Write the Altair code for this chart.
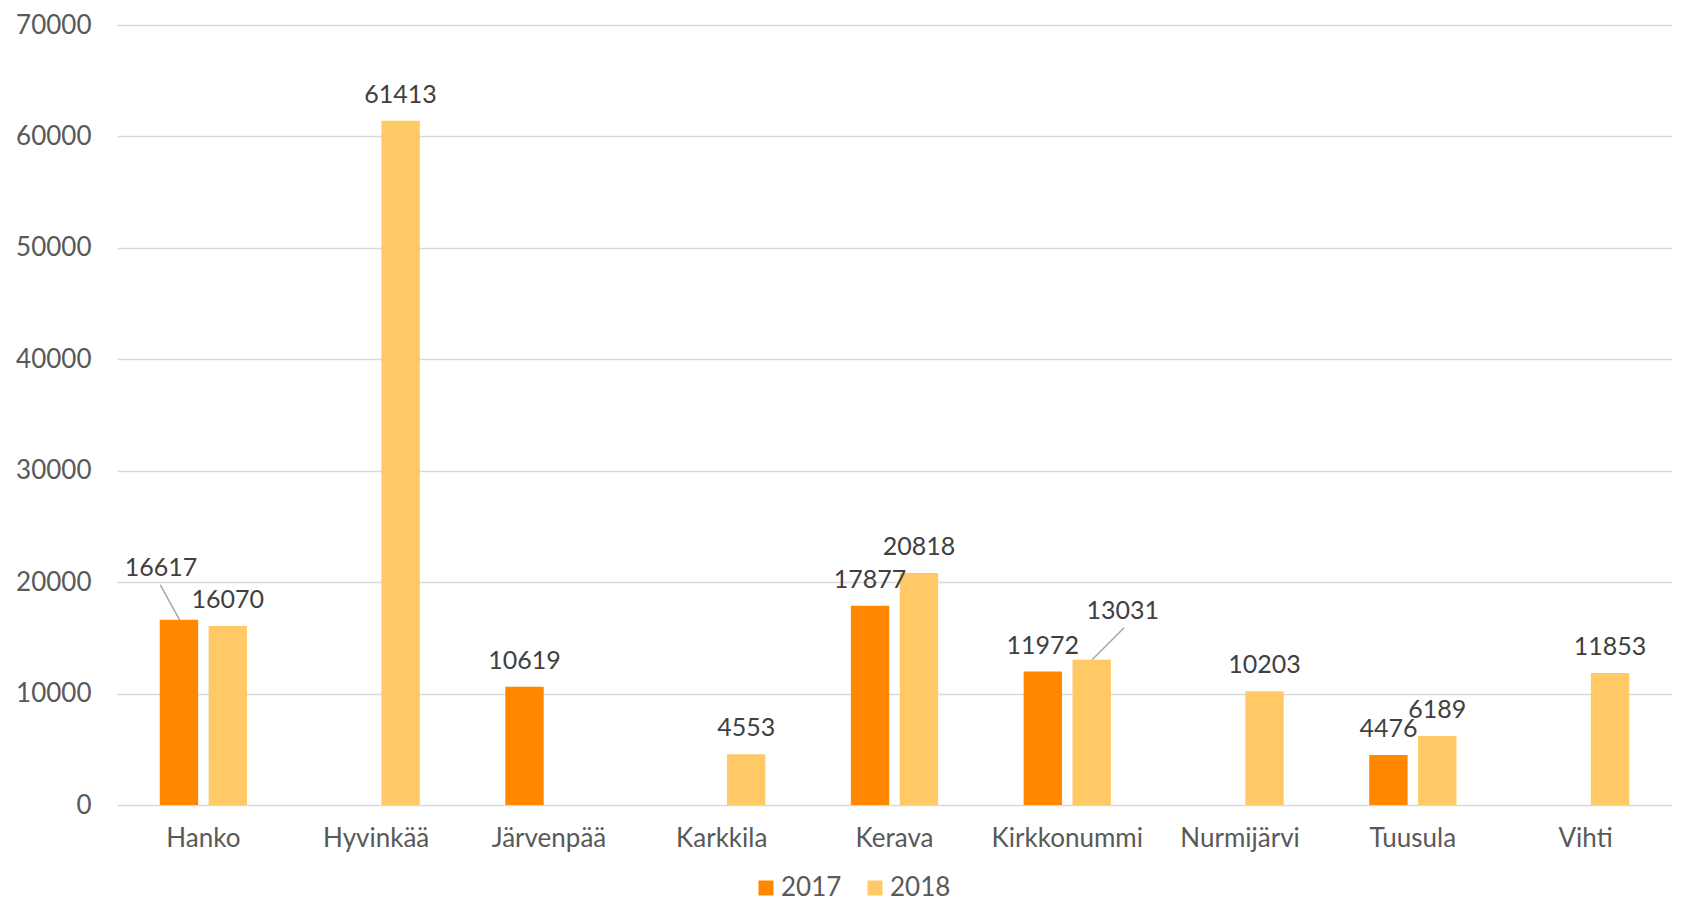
import altair as alt
import pandas as pd

cities = ["Hanko", "Hyvinkää", "Järvenpää", "Karkkila", "Kerava",
          "Kirkkonummi", "Nurmijärvi", "Tuusula", "Vihti"]
years = ["2017", "2018"]
v2017 = [16617, None, 10619, None, 17877, 11972, None, 4476, None]
v2018 = [16070, 61413, None, 4553, 20818, 13031, 10203, 6189, 11853]
y_ticks = [0, 10000, 20000, 30000, 40000, 50000, 60000, 70000]
colors = ["#FF8800", "#FFCA66"]

rows = []
for c, a, b in zip(cities, v2017, v2018):
    rows.append({"city": c, "year": "2017", "value": a})
    rows.append({"city": c, "year": "2018", "value": b})
df = pd.DataFrame(rows)

FONT = "Lato"
base = alt.Chart(df)

x = alt.X("city:N", sort=cities, title=None,
          scale=alt.Scale(paddingInner=0, paddingOuter=0),
          axis=alt.Axis(labelFontSize=26, labelColor="#595959", labelFont=FONT,
                        labelPadding=20, ticks=False, domain=False, labelAngle=0, grid=False))
xo = alt.XOffset("year:N", scale=alt.Scale(domain=years, paddingInner=0.214, paddingOuter=0.875))
y = alt.Y("value:Q", title=None,
          scale=alt.Scale(domain=[0, 70000], nice=False),
          axis=alt.Axis(values=y_ticks, format="d", labelFontSize=26, labelColor="#595959",
                        labelFont=FONT, labelPadding=26, ticks=False, domain=False,
                        gridColor="#D9D9D9", gridWidth=1.5))

bars = base.mark_bar().encode(
    x=x, xOffset=xo, y=y,
    color=alt.Color("year:N", scale=alt.Scale(domain=years, range=colors), title=None,
                    legend=alt.Legend(orient="none", legendX=636, legendY=850,
                                      direction="horizontal", symbolType="square",
                                      symbolSize=225, symbolStrokeWidth=0,
                                      labelFontSize=26, labelFont=FONT, labelColor="#595959",
                                      labelOffset=2, columnPadding=20, padding=0)),
)

special = "(datum.city == 'Hanko' && datum.year == '2017') || (datum.city == 'Kirkkonummi' && datum.year == '2018')"

labels = base.mark_text(baseline="alphabetic", dy=-18, fontSize=25, font=FONT, color="#404040").encode(
    x=alt.X("city:N", sort=cities), xOffset=xo, y="value:Q", text=alt.Text("value:Q", format="d")
).transform_filter("datum.value != null").transform_filter("!(" + special + ")")

lab_hanko = base.mark_text(baseline="alphabetic", dx=-18, dy=-44, fontSize=25, font=FONT, color="#404040").encode(
    x=alt.X("city:N", sort=cities), xOffset=xo, y="value:Q", text=alt.Text("value:Q", format="d")
).transform_filter("datum.city == 'Hanko' && datum.year == '2017'")

lab_kirk = base.mark_text(baseline="alphabetic", dx=31, dy=-41, fontSize=25, font=FONT, color="#404040").encode(
    x=alt.X("city:N", sort=cities), xOffset=xo, y="value:Q", text=alt.Text("value:Q", format="d")
).transform_filter("datum.city == 'Kirkkonummi' && datum.year == '2018'")

line_hanko = base.mark_rule(color="#A6A6A6", strokeWidth=1.5, xOffset=-23.8, x2Offset=-43.1,
                            yOffset=0, y2Offset=-35).encode(
    x=alt.X("city:N", sort=cities), x2="city:N", y="value:Q", y2="value:Q"
).transform_filter("datum.city == 'Hanko' && datum.year == '2017'")

line_kirk = base.mark_rule(color="#A6A6A6", strokeWidth=1.5, xOffset=24.8, x2Offset=56.8,
                           yOffset=0, y2Offset=-32).encode(
    x=alt.X("city:N", sort=cities), x2="city:N", y="value:Q", y2="value:Q"
).transform_filter("datum.city == 'Kirkkonummi' && datum.year == '2018'")

chart = alt.layer(bars, labels, lab_hanko, lab_kirk, line_hanko, line_kirk).properties(
    width=1555, height=780,
    padding={"left": 7, "top": 4, "right": 0, "bottom": 0},
).configure(font=FONT, view=alt.ViewConfig(stroke=None))

chart.save("out.html", embed_options={"renderer": "svg", "actions": False})
